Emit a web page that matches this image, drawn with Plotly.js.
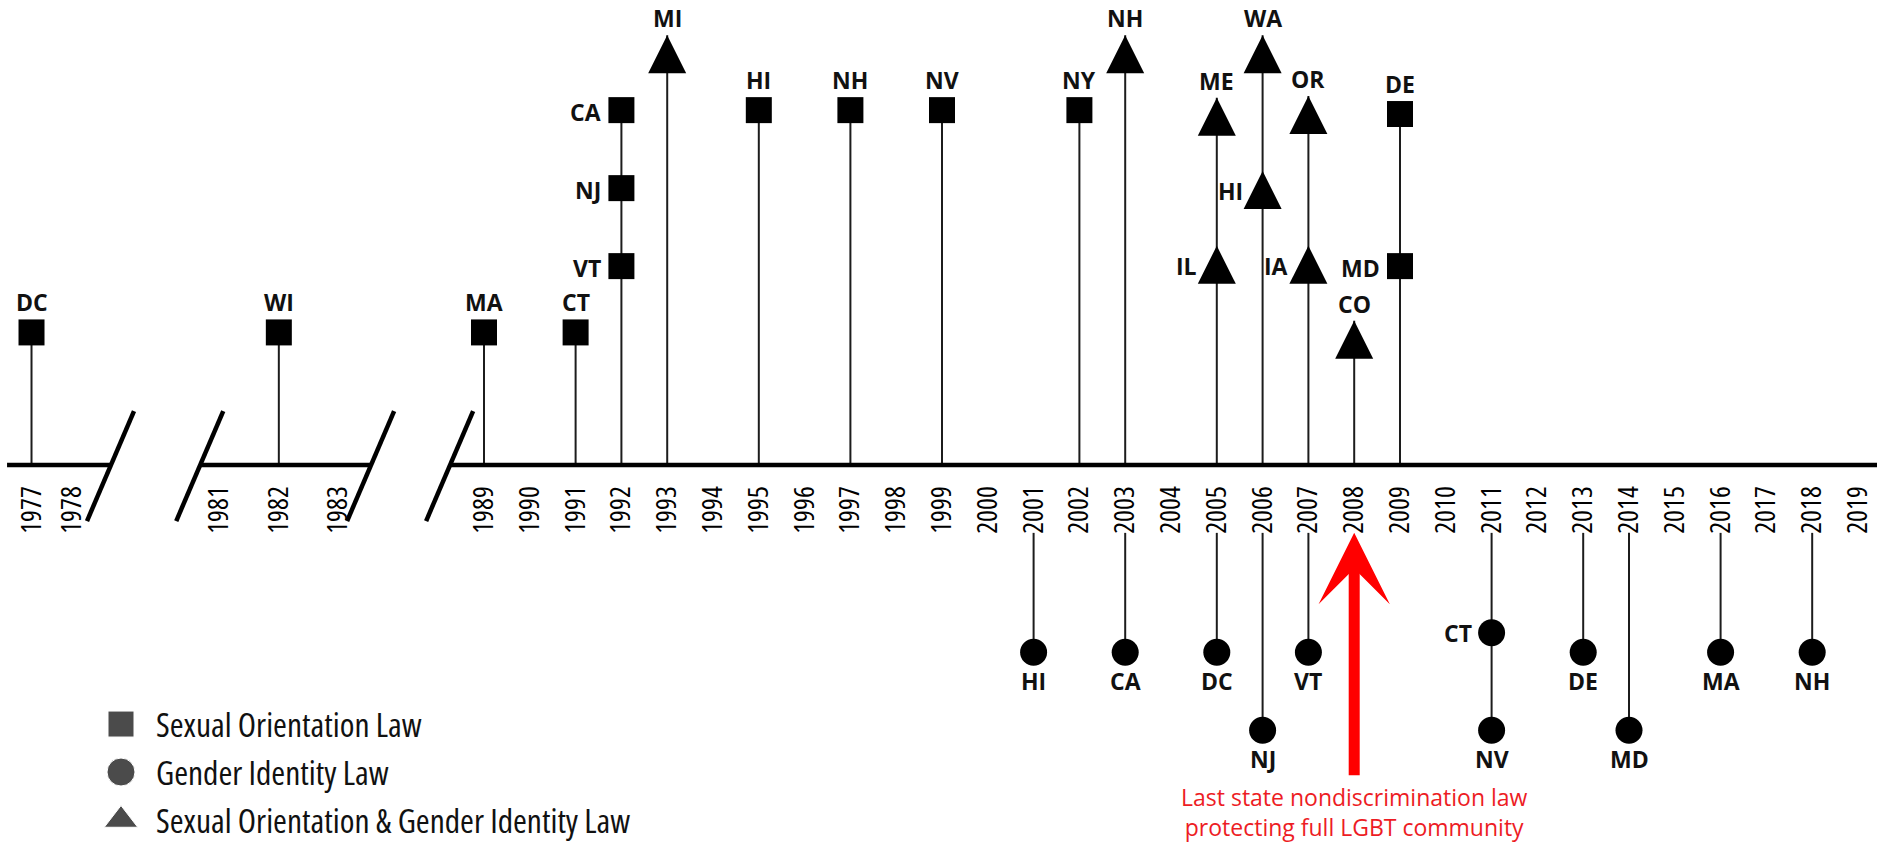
<!DOCTYPE html>
<html>
<head>
<meta charset="utf-8">
<script src="https://cdn.plot.ly/plotly-3.0.1.min.js"></script>
<style>
  html, body { margin: 0; padding: 0; background: #ffffff; }
  #chart { width: 1877px; height: 844px; }
  #chart .xtick text { font-stretch: 75%; }
</style>
</head>
<body>
<div id="chart"></div>
<script>
// ---------------- DATA ----------------
// Years shown on the (broken) timeline
const tickYears = [1977, 1978, 1981, 1982, 1983,
  1989, 1990, 1991, 1992, 1993, 1994, 1995, 1996, 1997, 1998, 1999, 2000,
  2001, 2002, 2003, 2004, 2005, 2006, 2007, 2008, 2009, 2010, 2011, 2012,
  2013, 2014, 2015, 2016, 2017, 2018, 2019];

// Sexual Orientation laws (squares, above the timeline) - level = marker centre height
const soYears  = [1977, 1982, 1989, 1991, 1992, 1992, 1992, 1995, 1997, 1999, 2002, 2009, 2009];
const soStates = ['DC', 'WI', 'MA', 'CT', 'VT', 'NJ', 'CA', 'HI', 'NH', 'NV', 'NY', 'MD', 'DE'];
const soLevels = [1.7, 1.7, 1.7, 1.7, 2.55, 3.55, 4.55, 4.55, 4.55, 4.55, 4.55, 2.55, 4.5];
const soLabelSide = ['top', 'top', 'top', 'top', 'left', 'left', 'left', 'top', 'top', 'top', 'top', 'left', 'top'];

// Sexual Orientation & Gender Identity laws (triangles, above the timeline) - level = triangle tip height
const sogiYears  = [1993, 2003, 2005, 2005, 2006, 2006, 2007, 2007, 2008];
const sogiStates = ['MI', 'NH', 'IL', 'ME', 'HI', 'WA', 'IA', 'OR', 'CO'];
const sogiLevels = [5.51, 5.51, 2.81, 4.71, 3.77, 5.51, 2.81, 4.73, 1.85];
const sogiLabelSide = ['top', 'top', 'left', 'top', 'left', 'top', 'left', 'top', 'top'];

// Gender Identity laws (circles, below the timeline) - level = marker centre depth
const giYears  = [2001, 2003, 2005, 2006, 2007, 2011, 2011, 2013, 2014, 2016, 2018];
const giStates = ['HI', 'CA', 'DC', 'NJ', 'VT', 'CT', 'NV', 'DE', 'MD', 'MA', 'NH'];
const giLevels = [-2.4, -2.4, -2.4, -3.4, -2.4, -2.15, -3.4, -2.4, -3.4, -2.4, -2.4];
const giLabelSide = ['bottom', 'bottom', 'bottom', 'bottom', 'bottom', 'left', 'bottom', 'bottom', 'bottom', 'bottom', 'bottom'];

const legendNames = ['Sexual Orientation Law', 'Gender Identity Law', 'Sexual Orientation & Gender Identity Law'];

const calloutYear = 2008;
const calloutLines = ['Last state nondiscrimination law', 'protecting full LGBT community'];

// ---------------- BROKEN-AXIS SCALE ----------------
const axisSegments = [
  { first: 1977, last: 1978, origin: 1979.12, unit: 0.89, padStart: 0.6,  padEnd: 0.95, slashStart: false, slashEnd: true },
  { first: 1981, last: 1983, origin: 1983.22, unit: 1.30, padStart: 0.32, padEnd: 0.55, slashStart: true,  slashEnd: true },
  { first: 1989, last: 2019, origin: 1989,    unit: 1.00, padStart: 0.74, padEnd: 1.0,  slashStart: true,  slashEnd: false }
];
function axisPos(year) {
  const s = axisSegments.find(seg => year >= seg.first && year <= seg.last);
  return s.origin + (year - s.first) * s.unit;
}
const xRange = [1978.432, 2019.415];
const yRange = [-4.859, 5.962];
const lowerStemTop = -0.87;   // where the stems below the year labels start

// ---------------- STYLE ----------------
const INK = '#000000';
const STEM = '#1c1c1c';
const labelFont = { family: 'Open Sans, sans-serif', size: 23, color: '#111111', weight: 700 };
const labelPlacement = {
  square:   { top: { yanchor: 'bottom', yshift: 12 }, left: { xanchor: 'right', xshift: -18, yshift: -2 } },
  triangle: { top: { yanchor: 'bottom', yshift: -1 }, left: { xanchor: 'right', xshift: -18, yshift: -20 } },
  circle:   { bottom: { yanchor: 'top', yshift: -11 }, left: { xanchor: 'right', xshift: -18, yshift: 0 } }
};

// ---------------- BUILD ----------------
const groups = [
  { years: soYears,   states: soStates,   levels: soLevels,   sides: soLabelSide,   shape: 'square',   symbol: 'square',   size: 26 },
  { years: sogiYears, states: sogiStates, levels: sogiLevels, sides: sogiLabelSide, shape: 'triangle', symbol: 'arrow-up', size: 38 },
  { years: giYears,   states: giStates,   levels: giLevels,   sides: giLabelSide,   shape: 'circle',   symbol: 'circle',   size: 27 }
];

const upperExt = {}, lowerExt = {};
groups.forEach(g => g.years.forEach((yr, i) => {
  const lv = g.levels[i];
  if (lv > 0) upperExt[yr] = Math.max(upperExt[yr] || 0, lv);
  else lowerExt[yr] = Math.min(lowerExt[yr] || 0, lv);
}));
const stemX = [], stemY = [];
Object.keys(upperExt).forEach(yr => { const p = axisPos(+yr); stemX.push(p, p, null); stemY.push(0, upperExt[yr], null); });
Object.keys(lowerExt).forEach(yr => { const p = axisPos(+yr); stemX.push(p, p, null); stemY.push(lowerStemTop, lowerExt[yr], null); });

const lineX = [], lineY = [];
const shapes = [];
axisSegments.forEach(s => {
  const a = axisPos(s.first) - s.padStart * s.unit;
  const b = axisPos(s.last) + s.padEnd * s.unit;
  lineX.push(a, b, null); lineY.push(0, 0, null);
  const slashAt = [];
  if (s.slashStart) slashAt.push(a);
  if (s.slashEnd) slashAt.push(b);
  slashAt.forEach(xa => shapes.push({
    type: 'line', xref: 'x', yref: 'y',
    xsizemode: 'pixel', xanchor: xa, x0: -24, x1: 23,
    ysizemode: 'pixel', yanchor: 0, y0: -56, y1: 54,
    line: { color: INK, width: 4.5 }
  }));
});

const traces = [
  { type: 'scatter', mode: 'lines', x: stemX, y: stemY, line: { color: STEM, width: 2 }, hoverinfo: 'skip', showlegend: false },
  { type: 'scatter', mode: 'lines', x: lineX, y: lineY, line: { color: INK, width: 4.5 }, hoverinfo: 'skip', showlegend: false }
];
const annotations = [];
groups.forEach(g => {
  traces.push({
    type: 'scatter', mode: 'markers',
    x: g.years.map(axisPos), y: g.levels,
    text: g.states, hovertemplate: '%{text}<extra></extra>',
    marker: { symbol: g.symbol, size: g.size, color: INK, line: { width: 0 } },
    showlegend: false, cliponaxis: false
  });
  g.years.forEach((yr, i) => {
    const pl = labelPlacement[g.shape][g.sides[i]];
    annotations.push(Object.assign({
      x: axisPos(yr), y: g.levels[i], xref: 'x', yref: 'y',
      text: g.states[i], showarrow: false,
      font: labelFont, xanchor: 'center', yanchor: 'middle', xshift: 0, yshift: 0
    }, pl));
  });
});

// legend on its own small axes
traces.push({
  type: 'scatter', mode: 'markers', xaxis: 'x2', yaxis: 'y2',
  x: legendNames.map(() => 0), y: legendNames,
  marker: { symbol: ['square', 'circle', 'triangle-up'], size: [26, 28, 29], color: INK },
  hoverinfo: 'skip', showlegend: false, cliponaxis: false
});
legendNames.forEach((name, i) => annotations.push({
  xref: 'x2', yref: 'y2', x: 0, y: i, text: name, showarrow: false,
  xanchor: 'left', yanchor: 'middle', xshift: 33, align: 'left',
  font: { family: 'Open Sans, sans-serif', size: 33.5, color: '#111111' }
}));

// red callout arrow + text
annotations.push({
  x: axisPos(calloutYear), y: lowerStemTop, xref: 'x', yref: 'y',
  text: '', showarrow: true, arrowhead: 3, arrowsize: 1.08, arrowwidth: 11,
  arrowcolor: '#ff0000', ax: 0, ay: 244, axref: 'pixel', ayref: 'pixel', standoff: 0
});
annotations.push({
  x: axisPos(calloutYear), y: lowerStemTop, xref: 'x', yref: 'y',
  text: calloutLines.join('<br>'), showarrow: false, xanchor: 'center', yanchor: 'top',
  yshift: -246, align: 'center',
  font: { family: 'Open Sans, sans-serif', size: 23, color: '#ed1c24' }
});

const layout = {
  width: 1877, height: 844,
  margin: { l: 0, r: 0, t: 0, b: 0, pad: 0 },
  paper_bgcolor: '#ffffff', plot_bgcolor: '#ffffff',
  showlegend: false,
  xaxis: {
    range: xRange, domain: [0, 1], anchor: 'free',
    position: (0 - yRange[0]) / (yRange[1] - yRange[0]),
    showgrid: false, zeroline: false, showline: false, automargin: false, fixedrange: true,
    tickmode: 'array', tickvals: tickYears.map(axisPos), ticktext: tickYears.map(String),
    tickangle: -90, ticks: 'outside', ticklen: 9, tickcolor: 'rgba(0,0,0,0)',
    ticklabeloverflow: 'allow',
    tickfont: { family: 'Open Sans, sans-serif', size: 28, color: '#000000', weight: 400 }
  },
  yaxis: { range: yRange, domain: [0, 1], visible: false, fixedrange: true },
  xaxis2: { domain: [0, 242 / 1877], range: [-1, 1], visible: false, anchor: 'y2', fixedrange: true },
  yaxis2: { domain: [0.0021, 0.1727], range: [2.4625, -0.5375], type: 'category', visible: false, anchor: 'x2', fixedrange: true },
  shapes: shapes,
  annotations: annotations
};

Plotly.newPlot('chart', traces, layout, { displayModeBar: false, staticPlot: true }).then(gd => {
  // condensed face for the legend entries (Open Sans variable width axis)
  gd.querySelectorAll('.annotation-text').forEach(t => {
    if (legendNames.indexOf(t.textContent) >= 0) t.style.fontStretch = '75%';
  });
});
</script>
</body>
</html>
